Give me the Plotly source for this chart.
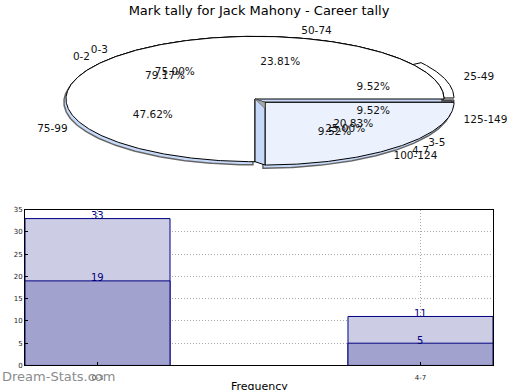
import numpy as np
import plotly.graph_objects as go

# ---------------- data ----------------
title_text = "Mark tally for Jack Mahony - Career tally"
mark_labels = ["25-49", "50-74", "75-99", "100-124", "125-149"]
mark_counts = [2, 5, 10, 2, 2]
tally_a_labels = ["0-2", "3-5"]
tally_a_counts = [19, 5]
tally_b_labels = ["0-3", "4-7"]
tally_b_counts = [33, 11]
bar_categories = ["0-3", "4-7"]
bar_light = [33, 11]
bar_dark = [19, 5]
y_ticks = [0, 5, 10, 15, 20, 25, 30, 35]
x_axis_title = "Frequency"
watermark = "Dream-Stats.com"

# ---------------- styles ----------------
FONT = "DejaVu Sans"
WHITE = "#FFFFFF"
LIGHTBLUE = "#EBF1FD"
SIDEBLUE = "#C6D9F9"
NAVY = "#000080"

mark_explode = [0.055, 0.0, 0.0, 0.075, 0.055]
tally_a_explode = [0.0, 0.055]
tally_b_explode = [0.0, 0.075]
shadow_off = (-0.011, -0.05)

fig = go.Figure()


def pie_geom(counts, explode):
    total = float(sum(counts))
    out = []
    start = 0.0
    for c, e in zip(counts, explode):
        sweep = 360.0 * c / total
        t1, t2 = start, start + sweep
        mid = np.deg2rad((t1 + t2) / 2)
        ox, oy = e * np.cos(mid), e * np.sin(mid)
        th = np.deg2rad(np.linspace(t1, t2, max(8, int(sweep * 2))))
        xs = np.concatenate([[ox], ox + np.cos(th), [ox]])
        ys = np.concatenate([[oy], oy + np.sin(th), [oy]])
        out.append(dict(xs=xs, ys=ys, ox=ox, oy=oy, mid=mid,
                        pct=f"{100 * c / total:.2f}%", t1=t1, t2=t2))
        start = t2
    return out


def add_poly(xs, ys, fill, line="#000000", width=1.0):
    fig.add_trace(go.Scatter(x=xs, y=ys, mode="lines", fill="toself",
                             fillcolor=fill, line=dict(color=line, width=width),
                             xaxis="x2", yaxis="y2", hoverinfo="skip",
                             showlegend=False))


mark = pie_geom(mark_counts, mark_explode)
ta = pie_geom(tally_a_counts, tally_a_explode)
tb = pie_geom(tally_b_counts, tally_b_explode)

# mark pie
for w in mark:
    add_poly(w["xs"], w["ys"], WHITE)
# tally pie A
for w, col in zip(ta, [WHITE, LIGHTBLUE]):
    add_poly(w["xs"], w["ys"], col)
# shadows (depth) of tally pie B
for w in tb:
    add_poly(w["xs"] + shadow_off[0], w["ys"] + shadow_off[1], SIDEBLUE, "#666666", 1.5)
# tally pie B
for w, col in zip(tb, [WHITE, LIGHTBLUE]):
    add_poly(w["xs"], w["ys"], col)
# side face of the exploded slice
w2 = tb[1]
t1 = np.deg2rad(w2["t1"])
fx = [0, w2["ox"], w2["ox"] + np.cos(t1), np.cos(t1), 0]
fy = [0, w2["oy"], w2["oy"] + np.sin(t1), np.sin(t1), 0]
add_poly(fx, fy, SIDEBLUE)
add_poly([0, w2["ox"], w2["ox"], 0], [0, w2["oy"], w2["oy"] - 0.1, 0], "#A8A8A8", "#555555", 0.6)

# labels
label_pts = {"r": ([], [], []), "l": ([], [], [])}
pct_pts = ([], [], [])
for geom, labels in [(mark, mark_labels), (ta, tally_a_labels), (tb, tally_b_labels)]:
    for w, lab in zip(geom, labels):
        lx = w["ox"] + 1.1 * np.cos(w["mid"])
        ly = w["oy"] + 1.1 * np.sin(w["mid"])
        key = "r" if lx > 0 else "l"
        label_pts[key][0].append(lx)
        label_pts[key][1].append(ly)
        label_pts[key][2].append(lab)
        pct_pts[0].append(w["ox"] + 0.6 * np.cos(w["mid"]))
        pct_pts[1].append(w["oy"] + 0.6 * np.sin(w["mid"]))
        pct_pts[2].append(w["pct"])

for key, pos in [("r", "middle right"), ("l", "middle left")]:
    xs, ys, ts = label_pts[key]
    fig.add_trace(go.Scatter(x=xs, y=ys, text=ts, mode="text", textposition=pos,
                             textfont=dict(family=FONT, size=10.5, color="#111111"),
                             xaxis="x2", yaxis="y2", hoverinfo="skip", showlegend=False))
fig.add_trace(go.Scatter(x=pct_pts[0], y=pct_pts[1], text=pct_pts[2], mode="text",
                         textposition="middle center",
                         textfont=dict(family=FONT, size=10.5, color="#111111"),
                         xaxis="x2", yaxis="y2", hoverinfo="skip", showlegend=False))

# ---------------- bar chart ----------------
fig.add_trace(go.Bar(x=bar_categories, y=bar_light, width=0.449,
                     marker=dict(color="#CCCCE4", line=dict(color=NAVY, width=1)),
                     hoverinfo="skip", showlegend=False))
fig.add_trace(go.Bar(x=bar_categories, y=bar_dark, width=0.449,
                     marker=dict(color="#A2A2CF", line=dict(color=NAVY, width=1)),
                     hoverinfo="skip", showlegend=False))

annotations = []
for vals in (bar_light, bar_dark):
    for cat, v in zip(bar_categories, vals):
        annotations.append(dict(x=cat, y=v, xref="x", yref="y", text=str(v),
                                showarrow=False, xanchor="center", yanchor="middle",
                                yshift=3,
                                font=dict(family=FONT, size=10, color=NAVY)))

W, H = 520, 390
cx, cy, ra, rb = 255, 97, 189, 64
pie_h = H * 0.5

annotations += [
    dict(text=x_axis_title, xref="paper", yref="paper", x=259 / W, y=(H - 382) / H,
         xanchor="center", yanchor="top", showarrow=False,
         font=dict(family=FONT, size=11, color="#000000")),
    dict(text=watermark, xref="paper", yref="paper", x=0,
         y=(H - 380) / H, xanchor="left", yanchor="middle", showarrow=False,
         font=dict(family=FONT, size=13, color="#8C8C8C")),
]

fig.update_layout(
    width=W, height=H,
    margin=dict(l=0, r=0, t=0, b=0),
    paper_bgcolor="white", plot_bgcolor="white",
    barmode="overlay",
    font=dict(family=FONT),
    title=dict(text=title_text, x=259 / W, y=1 - 10 / H, xanchor="center",
               yanchor="middle", font=dict(family=FONT, size=13, color="#000000")),
    xaxis=dict(domain=[25 / W, 493 / W], type="category", range=[-0.2245, 1.2245],
               showgrid=True, gridcolor="#A8A8A8", griddash="1px,2px", gridwidth=1,
               ticks="inside", ticklen=3, tickcolor="#000000",
               ticklabelstandoff=5,
               tickfont=dict(family=FONT, size=7, color="#222222"),
               showline=True, linecolor="#000000", linewidth=1, mirror=True,
               zeroline=False, anchor="y"),
    yaxis=dict(domain=[(H - 369) / H, (H - 210) / H], range=[0, 35], tickvals=y_ticks,
               showgrid=True, gridcolor="#A8A8A8", griddash="1px,2px", gridwidth=1,
               ticks="inside", ticklen=3, tickcolor="#000000",
               tickfont=dict(family=FONT, size=7, color="#222222"),
               showline=True, linecolor="#000000", linewidth=1, mirror=True,
               zeroline=False, anchor="x"),
    xaxis2=dict(domain=[0, 1], range=[-cx / ra, (W - cx) / ra], visible=False,
                anchor="y2", fixedrange=True),
    yaxis2=dict(domain=[0.5, 1], range=[-(pie_h - cy) / rb, cy / rb], visible=False,
                anchor="x2", fixedrange=True),
    annotations=annotations,
)

fig.write_html("out.html", config={"displayModeBar": False},
               post_script="document.body.style.margin='0';document.body.style.overflow='hidden';")
